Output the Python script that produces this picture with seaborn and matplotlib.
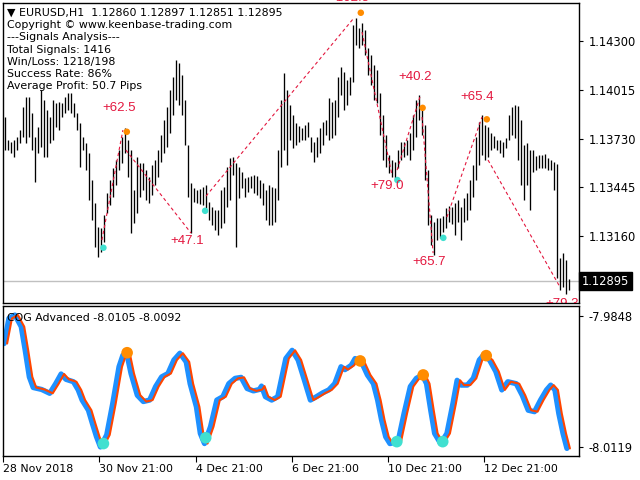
import matplotlib
matplotlib.use('Agg')
import matplotlib.pyplot as plt
import matplotlib.transforms as mtransforms
import numpy as np
import pandas as pd
import seaborn as sns

# EURUSD H1 bars, left to right
bar_high = [
    1.13856, 1.13722, 1.13710, 1.13722, 1.13739, 1.13780, 1.13914, 1.13973, 1.13973, 1.13879,
    1.13739, 1.13798, 1.14014, 1.13955, 1.13897, 1.13856, 1.13955, 1.13938, 1.13944, 1.13938,
    1.13973, 1.13996, 1.13996, 1.13938, 1.13879, 1.13821, 1.13739, 1.13704, 1.13646, 1.13488,
    1.13353, 1.13213, 1.13207, 1.13283, 1.13412, 1.13488, 1.13558, 1.13605, 1.13663, 1.13739,
    1.13792, 1.13722, 1.13663, 1.13429, 1.13622, 1.13587, 1.13587, 1.13546, 1.13505, 1.13575,
    1.13605, 1.13663, 1.13751, 1.13838, 1.13914, 1.14014, 1.14090, 1.14189, 1.14172, 1.14102,
    1.13955, 1.13692, 1.13470, 1.13441, 1.13429, 1.13435, 1.13447, 1.13458, 1.13359, 1.13330,
    1.13312, 1.13312, 1.13429, 1.13447, 1.13564, 1.13616, 1.13622, 1.13587, 1.13564, 1.13534,
    1.13499, 1.13505, 1.13511, 1.13517, 1.13511, 1.13488, 1.13470, 1.13429, 1.13458, 1.13447,
    1.13441, 1.13663, 1.13955, 1.14113, 1.14014, 1.13926, 1.13868, 1.13821, 1.13803, 1.13792,
    1.13809, 1.13827, 1.13739, 1.13710, 1.13739, 1.13792, 1.13827, 1.13838, 1.13967, 1.13944,
    1.13955, 1.14090, 1.14148, 1.14119, 1.14072, 1.14090, 1.14394, 1.14435, 1.14376, 1.14406,
    1.14365, 1.14259, 1.14218, 1.14160, 1.14131, 1.13996, 1.13868, 1.13751, 1.13634, 1.13605,
    1.13593, 1.13663, 1.13710, 1.13710, 1.13722, 1.13762, 1.13868, 1.13955, 1.13985, 1.13926,
    1.13809, 1.13546, 1.13283, 1.13242, 1.13266, 1.13266, 1.13277, 1.13324, 1.13336, 1.13330,
    1.13353, 1.13371, 1.13330, 1.13382, 1.13412, 1.13488, 1.13575, 1.13739, 1.13827, 1.13868,
    1.13809, 1.13798, 1.13762, 1.13745, 1.13722, 1.13722, 1.13710, 1.13733, 1.13868, 1.13914,
    1.13926, 1.13920, 1.13838, 1.13692, 1.13704, 1.13663, 1.13663, 1.13628, 1.13634, 1.13634,
    1.13640, 1.13616, 1.13605, 1.13593, 1.13581, 1.13032, 1.13061, 1.13020, 1.12909,
]
bar_low = [
    1.13663, 1.13663, 1.13646, 1.13622, 1.13663, 1.13704, 1.13739, 1.13704, 1.13739, 1.13663,
    1.13476, 1.13646, 1.13681, 1.13622, 1.13622, 1.13704, 1.13722, 1.13798, 1.13780, 1.13856,
    1.13879, 1.13897, 1.13879, 1.13856, 1.13780, 1.13564, 1.13663, 1.13546, 1.13371, 1.13254,
    1.13096, 1.13038, 1.13067, 1.13125, 1.13295, 1.13342, 1.13388, 1.13458, 1.13546, 1.13587,
    1.13646, 1.13505, 1.13178, 1.13236, 1.13295, 1.13388, 1.13429, 1.13371, 1.13353, 1.13400,
    1.13458, 1.13505, 1.13593, 1.13646, 1.13681, 1.13762, 1.13868, 1.13955, 1.13926, 1.13868,
    1.13692, 1.13388, 1.13178, 1.13359, 1.13353, 1.13347, 1.13342, 1.13324, 1.13254, 1.13225,
    1.13195, 1.13166, 1.13207, 1.13236, 1.13330, 1.13371, 1.13517, 1.13096, 1.13382, 1.13441,
    1.13388, 1.13418, 1.13441, 1.13412, 1.13400, 1.13382, 1.13342, 1.13254, 1.13225, 1.13225,
    1.13242, 1.13371, 1.13564, 1.13663, 1.13575, 1.13722, 1.13675, 1.13692, 1.13710, 1.13722,
    1.13722, 1.13739, 1.13651, 1.13593, 1.13622, 1.13646, 1.13692, 1.13751, 1.13722, 1.13733,
    1.13751, 1.13856, 1.13985, 1.13897, 1.13926, 1.13985, 1.14061, 1.14277, 1.14259, 1.14277,
    1.14218, 1.14102, 1.14043, 1.13955, 1.13938, 1.13751, 1.13605, 1.13564, 1.13529, 1.13505,
    1.13499, 1.13558, 1.13605, 1.13622, 1.13634, 1.13605, 1.13663, 1.13739, 1.13838, 1.13751,
    1.13488, 1.13225, 1.13108, 1.13049, 1.13137, 1.13149, 1.13184, 1.13207, 1.13242, 1.13230,
    1.13166, 1.13242, 1.13137, 1.13242, 1.13254, 1.13312, 1.13388, 1.13488, 1.13575, 1.13634,
    1.13605, 1.13622, 1.13663, 1.13675, 1.13663, 1.13646, 1.13622, 1.13675, 1.13722, 1.13751,
    1.13733, 1.13605, 1.13458, 1.13371, 1.13458, 1.13312, 1.13534, 1.13546, 1.13558, 1.13558,
    1.13558, 1.13546, 1.13546, 1.13429, 1.12915, 1.12845, 1.12862, 1.12821, 1.12845,
]
last_price = 1.12895

# signal arrows (bar number, price)
buy_bar = [32.8, 66.7, 130.8, 146.1]
buy_price = [1.13092, 1.13308, 1.13488, 1.13150]
sell_bar = [40.6, 118.6, 139.2, 160.6]
sell_price = [1.13770, 1.14466, 1.13910, 1.13843]

# trade lines between signals
zz_start_bar = [32.3, 40.3, 67.0, 119.0, 130.7, 139.0, 147.3, 161.0]
zz_start_price = [1.13137, 1.13663, 1.13394, 1.14353, 1.13546, 1.13856, 1.13271, 1.13605]
zz_end_bar = [39.3, 62.0, 116.0, 129.0, 138.3, 142.7, 159.0, 185.0]
zz_end_price = [1.13780, 1.13178, 1.14429, 1.13517, 1.13973, 1.13061, 1.13856, 1.12862]

# profit labels in pips
label_text = ['+62.5', '+47.1', '+102.5', '+79.0', '+40.2', '+65.7', '+65.4', '+79.3']
label_bar = [38.0, 60.7, 114.7, 127.3, 136.7, 141.3, 157.3, 185.7]
label_price = [1.13909, 1.13131, 1.14552, 1.13453, 1.14090, 1.13008, 1.13973, 1.12763]

# COG Advanced indicator
cog_bar = [
    -0.3, 1.3, 3.3, 5.4, 6.7, 8.1, 9.4, 12.2, 14.9, 16.9,
    18.7, 20.3, 22.8, 24.4, 25.7, 27.8, 29.1, 30.5, 31.8, 33.9,
    35.9, 38.0, 39.3, 40.7, 42.0, 44.1, 46.1, 48.2, 50.2, 52.2,
    54.3, 56.3, 58.3, 60.4, 61.7, 63.8, 65.1, 66.5, 68.5, 70.6,
    72.6, 74.6, 76.7, 78.7, 80.7, 82.8, 84.8, 85.5, 86.8, 88.9,
    90.9, 92.3, 93.6, 95.7, 97.7, 99.8, 101.8, 103.8, 105.9, 107.9,
    109.9, 112.0, 113.3, 115.4, 116.7, 118.8, 120.8, 122.8, 124.2, 125.5,
    126.9, 128.3, 131.0, 133.0, 135.1, 137.1, 139.1, 140.5, 141.9, 143.2,
    145.2, 147.3, 149.3, 150.7, 152.0, 154.1, 156.1, 158.1, 159.5, 161.5,
    163.6, 165.6, 167.6, 170.4, 172.4, 174.4, 176.5, 178.5, 180.5, 181.9,
    183.3, 184.6, 186.0, 187.3,
]
cog_main = [
    -7.9905, -7.9853, -7.9846, -7.9870, -7.9918, -7.9974, -7.9996, -8.0000, -8.0008, -7.9988,
    -7.9968, -7.9979, -7.9984, -8.0001, -8.0022, -8.0043, -8.0070, -8.0098, -8.0119, -8.0094,
    -8.0029, -7.9953, -7.9929, -7.9929, -7.9967, -8.0012, -8.0025, -8.0022, -7.9994, -7.9974,
    -7.9967, -7.9939, -7.9925, -7.9943, -7.9988, -8.0036, -8.0091, -8.0112, -8.0077, -8.0022,
    -8.0015, -7.9988, -7.9977, -7.9975, -7.9998, -8.0003, -8.0000, -7.9993, -8.0015, -8.0022,
    -8.0015, -7.9974, -7.9936, -7.9919, -7.9939, -7.9981, -8.0022, -8.0015, -8.0007, -8.0001,
    -7.9988, -7.9953, -7.9959, -7.9950, -7.9936, -7.9943, -7.9970, -7.9988, -8.0022, -8.0063,
    -8.0098, -8.0112, -8.0108, -8.0050, -7.9994, -7.9977, -7.9970, -7.9988, -8.0043, -8.0091,
    -8.0112, -8.0091, -8.0029, -7.9981, -7.9991, -7.9991, -7.9977, -7.9939, -7.9929, -7.9939,
    -7.9963, -8.0001, -7.9984, -7.9988, -8.0012, -8.0043, -8.0046, -8.0022, -8.0001, -7.9991,
    -8.0001, -8.0050, -8.0091, -8.0122,
]
cog_buy_bar = [32.8, 66.9, 130.6, 145.9]
cog_buy = [-8.0112, -8.0100, -8.0108, -8.0108]
cog_sell_bar = [40.7, 118.4, 139.4, 160.4]
cog_sell = [-7.9924, -7.9941, -7.9970, -7.9930]

price_ticks = [1.14300, 1.14015, 1.13730, 1.13445, 1.13160]
cog_ticks = [-7.9848, -8.0119]
time_bar = [-0.67, 31.2, 63.5, 95.5, 127.6, 159.5]
time_labels = ['28 Nov 2018', '30 Nov 21:00', '4 Dec 21:00', '6 Dec 21:00',
               '10 Dec 21:00', '12 Dec 21:00']

info_lines = [
    '\u25bc EURUSD,H1  1.12860 1.12897 1.12851 1.12895',
    'Copyright \u00a9 www.keenbase-trading.com',
    '---Signals Analysis---',
    'Total Signals: 1416',
    'Win/Loss: 1218/198',
    'Success Rate: 86%',
    'Average Profit: 50.7 Pips',
]

RED = '#E3173E'
ORANGE = '#FF8C00'
CYAN = '#40E0D0'
FS = 7.9

sns.set_theme(style='white')
plt.rcParams['font.family'] = ['DejaVu Sans']

W, H = 640, 480
fig = plt.figure(figsize=(6.4, 4.8), dpi=100, facecolor='white')


def px_axes(left, top, right, bottom):
    return fig.add_axes([left / W, 1 - bottom / H, (right - left) / W, (bottom - top) / H])


ax = px_axes(3, 3, 579, 303)
ax2 = px_axes(3, 306, 579, 456)
xlim = (-0.67, 191.33)

# price panel
bars = np.arange(len(bar_high))
ax.axhline(last_price, color='#C0C0C0', lw=1, zorder=0)
ax.vlines(bars, bar_low, bar_high, color='black', lw=0.95, zorder=2)
for x0, y0, x1, y1 in zip(zz_start_bar, zz_start_price, zz_end_bar, zz_end_price):
    ax.plot([x0, x1], [y0, y1], color=RED, lw=0.8, ls=(0, (3, 2.5)), zorder=3)
sns.scatterplot(x=buy_bar, y=buy_price, color=CYAN, s=22, edgecolor='none', ax=ax, zorder=4)
sns.scatterplot(x=sell_bar, y=sell_price, color=ORANGE, s=22, edgecolor='none', ax=ax, zorder=4)
for t, xb, yp in zip(label_text, label_bar, label_price):
    ax.text(xb, yp, t, color=RED, fontsize=9.5, family=['Liberation Sans', 'DejaVu Sans'],
            ha='center', va='center', clip_on=(yp < 1.14523), zorder=5)

ax.set_xlim(*xlim)
ax.set_ylim(1.12769, 1.14523)
ax.set_xticks([])
ax.set_yticks(price_ticks)
ax.set_yticklabels(['%.5f' % v for v in price_ticks])
ax.yaxis.tick_right()
ax.tick_params(axis='y', right=True, left=False, labelright=True, labelleft=False,
               length=3, width=0.8, color='black', direction='out', pad=4,
               labelsize=8.3, labelcolor='black')

trans = mtransforms.blended_transform_factory(ax.transAxes, ax.transData)
ax.text(1.0045, last_price, '%.5f' % last_price, transform=trans, color='white',
        fontsize=8.3, ha='left', va='center',
        bbox=dict(boxstyle='square,pad=0.22', fc='black', ec='black'), zorder=6)

# COG panel
cog = pd.DataFrame({'bar': cog_bar, 'value': cog_main})
sns.lineplot(data=cog, x='bar', y='value', color='#1E90FF', lw=3.8, ax=ax2, zorder=2)
sns.lineplot(x=cog['bar'] + 1.0, y=cog['value'], color='#FF4500', lw=1.5, ax=ax2, zorder=3)
sns.scatterplot(x=cog_buy_bar, y=cog_buy, color=CYAN, s=70, edgecolor='none', ax=ax2, zorder=4)
sns.scatterplot(x=cog_sell_bar, y=cog_sell, color=ORANGE, s=70, edgecolor='none', ax=ax2, zorder=4)

ax2.set_xlim(*xlim)
ax2.set_ylim(-8.01377, -7.98273)
ax2.set_xlabel('')
ax2.set_ylabel('')
ax2.set_yticks(cog_ticks)
ax2.set_yticklabels(['%.4f' % v for v in cog_ticks])
ax2.yaxis.tick_right()
ax2.tick_params(axis='y', right=True, left=False, labelright=True, labelleft=False,
                length=3, width=0.8, color='black', direction='out', pad=4,
                labelsize=8.3, labelcolor='black')
ax2.set_xticks(time_bar)
ax2.set_xticklabels(time_labels, ha='left')
ax2.tick_params(axis='x', bottom=True, length=4, width=0.8, color='black',
                direction='out', pad=2, labelsize=FS, labelcolor='black')
ax2.text(0.007, 0.92, 'COG Advanced -8.0105 -8.0092', transform=ax2.transAxes,
         fontsize=FS, color='black', ha='left', va='center', zorder=6)

for a in (ax, ax2):
    a.set_facecolor('white')
    for sp in a.spines.values():
        sp.set_color('black')
        sp.set_linewidth(1.0)

for k, line in enumerate(info_lines):
    fig.text(7 / W, 1 - (13 + 12.2 * k) / H, line, fontsize=FS, color='black',
             ha='left', va='center')

fig.savefig('out.png', dpi=100, facecolor='white')
